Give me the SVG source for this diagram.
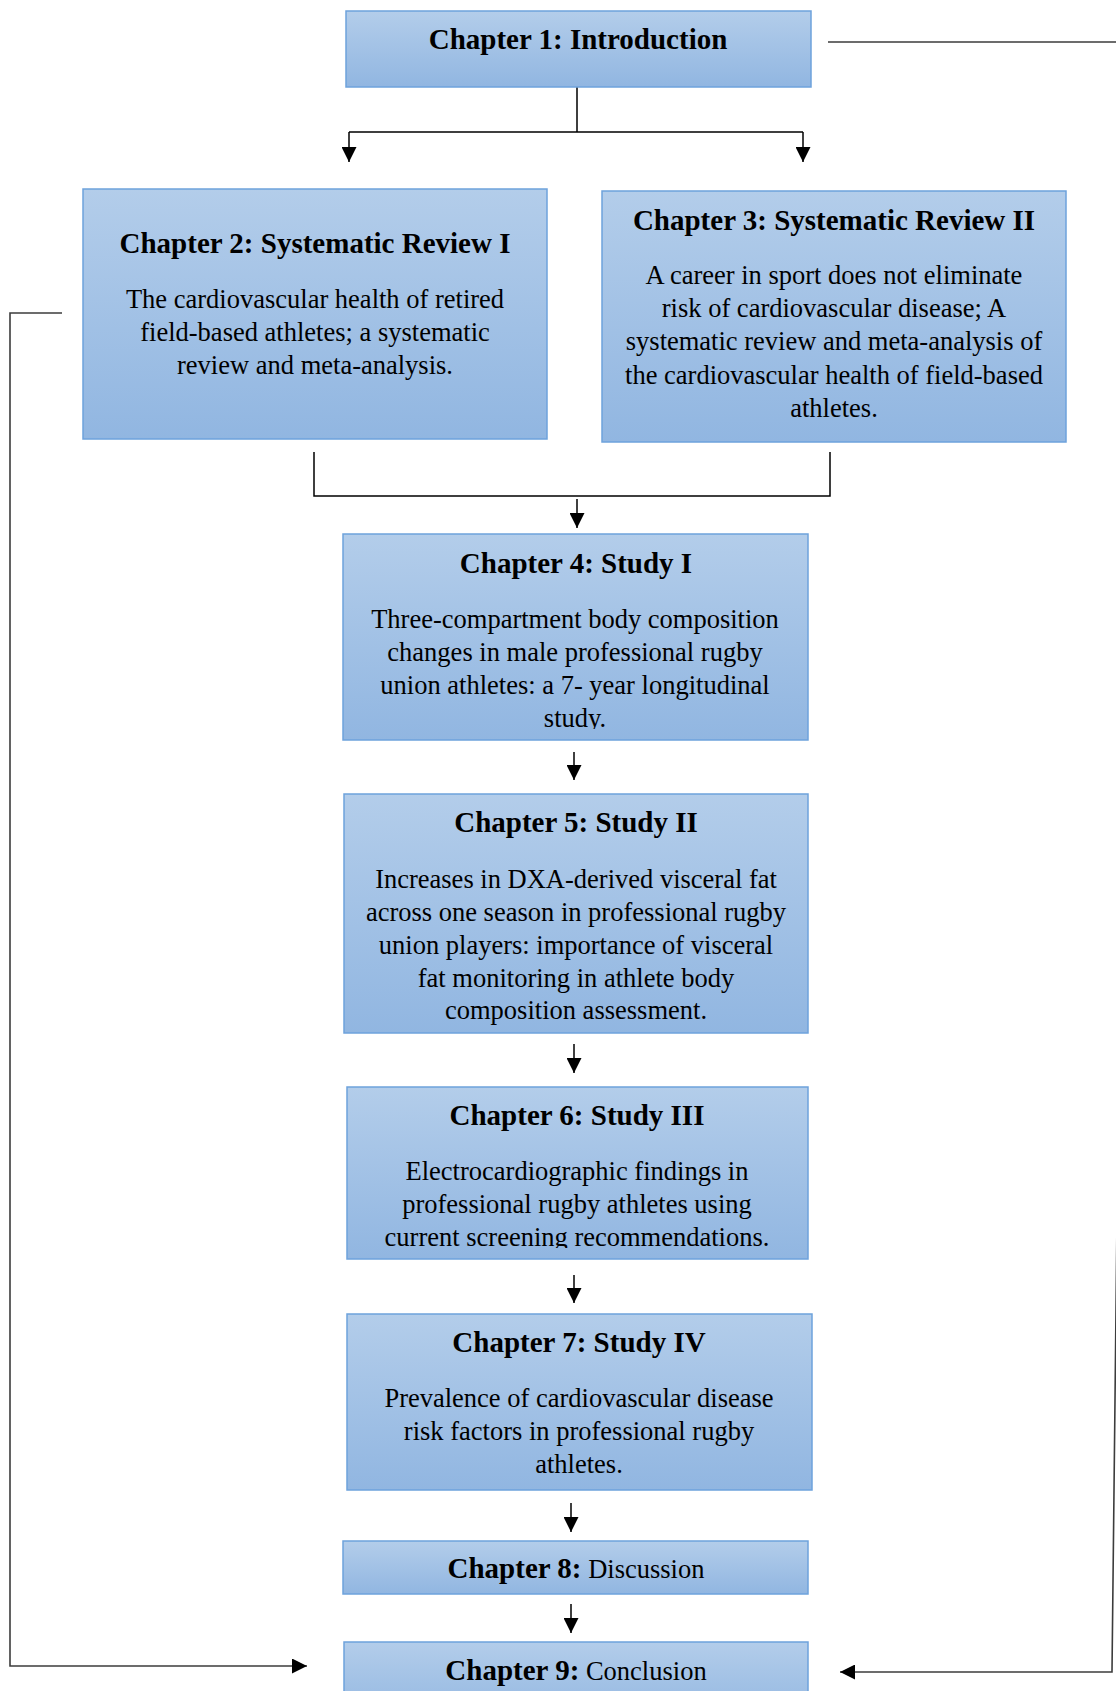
<svg xmlns="http://www.w3.org/2000/svg" width="1116" height="1691" viewBox="0 0 1116 1691">
<defs>
<linearGradient id="g" x1="0" y1="0" x2="0" y2="1">
<stop offset="0" stop-color="#b3cdea"/>
<stop offset="1" stop-color="#91b6e1"/>
</linearGradient>
<marker id="arr" viewBox="0 0 10 10" refX="10" refY="5" markerWidth="15" markerHeight="15" markerUnits="userSpaceOnUse" orient="auto">
<path d="M0,0 L10,5 L0,10 z" fill="#000"/>
</marker>
<clipPath id="c4"><rect x="343" y="534" width="465" height="195"/></clipPath>
<clipPath id="c6"><rect x="347" y="1087" width="461" height="161"/></clipPath>
</defs>
<style>
.box{fill:url(#g);stroke:#6ea2dc;stroke-width:1.5}
.t{font-family:"Liberation Serif","Times New Roman",serif;font-weight:bold;font-size:29px;fill:#000;text-anchor:middle}
.b{font-family:"Liberation Serif","Times New Roman",serif;font-size:26.5px;fill:#000;text-anchor:middle}
.r{font-weight:normal;font-size:26.5px}
.ln{fill:none;stroke:#000;stroke-width:1.5}
.lg{fill:none;stroke:#3c3c3c;stroke-width:1.6}
</style>
<g id="connectors">
<path class="ln" d="M577,87 V132 M349,132 H803"/>
<path class="ln" d="M349,132 V162" marker-end="url(#arr)"/>
<path class="ln" d="M803,132 V162" marker-end="url(#arr)"/>
<path class="ln" d="M314,452 V496 H830 V452"/>
<path class="ln" d="M577,499 V528" marker-end="url(#arr)"/>
<path class="ln" d="M574,752 V780" marker-end="url(#arr)"/>
<path class="ln" d="M574,1044 V1073" marker-end="url(#arr)"/>
<path class="ln" d="M574,1275 V1303" marker-end="url(#arr)"/>
<path class="ln" d="M571,1503 V1532" marker-end="url(#arr)"/>
<path class="ln" d="M571,1604 V1633" marker-end="url(#arr)"/>
<path class="lg" d="M62,313 H10 V1666 H307" marker-end="url(#arr)"/>
<path class="lg" d="M828,42 H1130 L1112,1672 H840" marker-end="url(#arr)"/>
</g>
<g id="ch1">
<rect class="box" x="346" y="11" width="465" height="76"/>
<text class="t" x="578" y="49">Chapter 1: Introduction</text>
</g>
<g id="ch2">
<rect class="box" x="83" y="189" width="464" height="250"/>
<text class="t" x="315" y="253">Chapter 2: Systematic Review I</text>
<text class="b" x="315" y="308">The cardiovascular health of retired</text>
<text class="b" x="315" y="341">field-based athletes; a systematic</text>
<text class="b" x="315" y="374">review and meta-analysis.</text>
</g>
<g id="ch3">
<rect class="box" x="602" y="191" width="464" height="251"/>
<text class="t" x="834" y="230">Chapter 3: Systematic Review II</text>
<text class="b" x="834" y="284">A career in sport does not eliminate</text>
<text class="b" x="834" y="317">risk of cardiovascular disease; A</text>
<text class="b" x="834" y="350">systematic review and meta-analysis of</text>
<text class="b" x="834" y="384">the cardiovascular health of field-based</text>
<text class="b" x="834" y="417">athletes.</text>
</g>
<g id="ch4">
<rect class="box" x="343" y="534" width="465" height="206"/>
<text class="t" x="576" y="573">Chapter 4: Study I</text>
<g clip-path="url(#c4)">
<text class="b" x="575" y="628">Three-compartment body composition</text>
<text class="b" x="575" y="661">changes in male professional rugby</text>
<text class="b" x="575" y="694">union athletes: a 7- year longitudinal</text>
<text class="b" x="575" y="727">study.</text>
</g>
</g>
<g id="ch5">
<rect class="box" x="344" y="794" width="464" height="239"/>
<text class="t" x="576" y="832">Chapter 5: Study II</text>
<text class="b" x="576" y="888">Increases in DXA-derived visceral fat</text>
<text class="b" x="576" y="921">across one season in professional rugby</text>
<text class="b" x="576" y="954">union players: importance of visceral</text>
<text class="b" x="576" y="987">fat monitoring in athlete body</text>
<text class="b" x="576" y="1019">composition assessment.</text>
</g>
<g id="ch6">
<rect class="box" x="347" y="1087" width="461" height="172"/>
<text class="t" x="577" y="1125">Chapter 6: Study III</text>
<g clip-path="url(#c6)">
<text class="b" x="577" y="1180">Electrocardiographic findings in</text>
<text class="b" x="577" y="1213">professional rugby athletes using</text>
<text class="b" x="577" y="1246">current screening recommendations.</text>
</g>
</g>
<g id="ch7">
<rect class="box" x="347" y="1314" width="465" height="176"/>
<text class="t" x="579" y="1352">Chapter 7: Study IV</text>
<text class="b" x="579" y="1407">Prevalence of cardiovascular disease</text>
<text class="b" x="579" y="1440">risk factors in professional rugby</text>
<text class="b" x="579" y="1473">athletes.</text>
</g>
<g id="ch8">
<rect class="box" x="343" y="1541" width="465" height="53"/>
<text class="t" x="576" y="1578">Chapter 8:<tspan class="r"> Discussion</tspan></text>
</g>
<g id="ch9">
<rect class="box" x="344" y="1642" width="464" height="80"/>
<text class="t" x="576" y="1680">Chapter 9:<tspan class="r"> Conclusion</tspan></text>
</g>
</svg>
